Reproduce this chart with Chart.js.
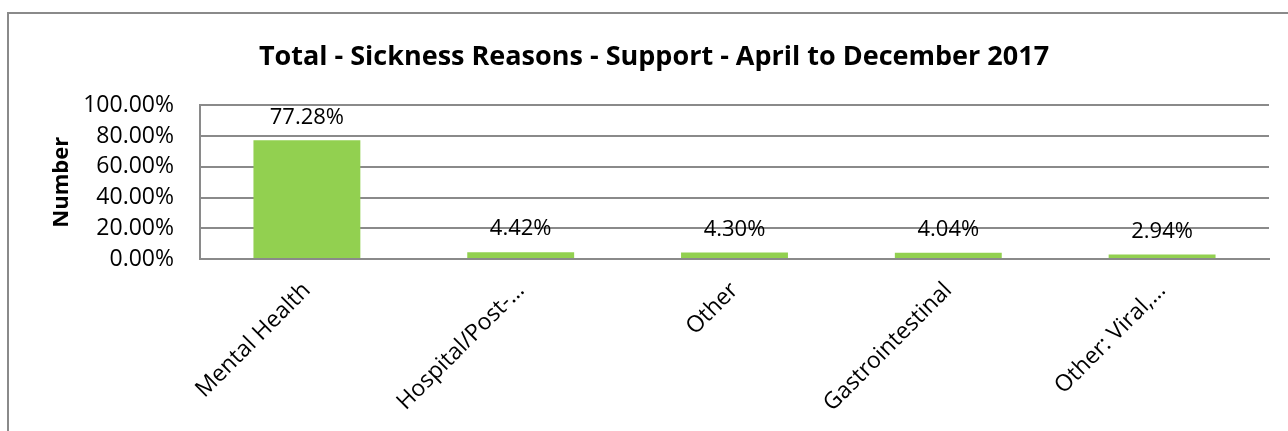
<!DOCTYPE html>
<html>
<head>
<meta charset="utf-8">
<script src="https://cdn.jsdelivr.net/npm/chart.js@4"></script>
<style>
  html, body { margin: 0; padding: 0; background: #fff; overflow: hidden; width: 1288px; height: 431px; }
  #frame { position: absolute; left: 7px; top: 12px; width: 2000px; height: 2000px; border: 2px solid #8a8a8a; }
  #chart { position: absolute; left: 8px; top: 0; }
</style>
</head>
<body>
<div id="frame"></div>
<canvas id="chart" width="1290" height="431"></canvas>
<script>
// Datos del grafico
const categorias = ['Mental Health', 'Hospital/Post-…', 'Other', 'Gastrointestinal', 'Other: Viral,…'];
const valores = [77.28, 4.42, 4.30, 4.04, 2.94];
const ticksY = [0, 20, 40, 60, 80, 100];

const fuente = "'Open Sans', 'Noto Sans', sans-serif";

// Etiquetas de valor encima de cada barra
const etiquetasValor = {
  id: 'etiquetasValor',
  afterDatasetsDraw(chart) {
    const ctx = chart.ctx;
    const meta = chart.getDatasetMeta(0);
    ctx.save();
    ctx.font = '22px ' + fuente;
    ctx.fillStyle = '#000';
    ctx.textAlign = 'center';
    ctx.textBaseline = 'middle';
    meta.data.forEach((bar, i) => {
      ctx.fillText(valores[i].toFixed(2) + '%', bar.x, bar.y - 23);
    });
    ctx.restore();
  }
};

const ctx = document.getElementById('chart').getContext('2d');
const chart = new Chart(ctx, {
  type: 'bar',
  data: {
    labels: categorias,
    datasets: [{
      data: valores,
      backgroundColor: '#92D050',
      borderWidth: 0,
      categoryPercentage: 1,
      barPercentage: 0.5
    }]
  },
  options: {
    responsive: false,
    animation: false,
    devicePixelRatio: 1,
    layout: { padding: { left: 31, right: 29, top: 0, bottom: 0 } },
    plugins: {
      legend: { display: false },
      tooltip: { enabled: false },
      title: {
        display: true,
        text: 'Total - Sickness Reasons - Support - April to December 2017',
        color: '#000',
        font: { family: fuente, size: 27, weight: 'bold' },
        padding: { top: 41, bottom: 32 }
      }
    },
    scales: {
      x: {
        grid: { display: false, drawTicks: false },
        border: { display: true, color: '#8a8a8a', width: 2 },
        ticks: {
          color: '#000',
          font: { family: fuente, size: 23 },
          minRotation: 45,
          maxRotation: 45,
          autoSkip: false,
          padding: 18
        },
        afterFit(scale) { scale.height = 172; }
      },
      y: {
        min: 0,
        max: 100,
        afterBuildTicks(scale) { scale.ticks = ticksY.map(v => ({ value: v })); },
        grid: { color: '#8a8a8a', lineWidth: 2, drawTicks: false },
        border: { display: true, color: '#8a8a8a', width: 2 },
        ticks: {
          color: '#000',
          font: { family: fuente, size: 23 },
          padding: 26,
          callback: v => v.toFixed(2) + '%'
        },
        title: {
          display: true,
          text: 'Number',
          color: '#000',
          font: { family: fuente, size: 22, weight: 'bold' },
          padding: { top: 10, bottom: 0 }
        },
        afterFit(scale) { scale.width = 161; }
      }
    }
  },
  plugins: [etiquetasValor]
});
</script>
</body>
</html>
